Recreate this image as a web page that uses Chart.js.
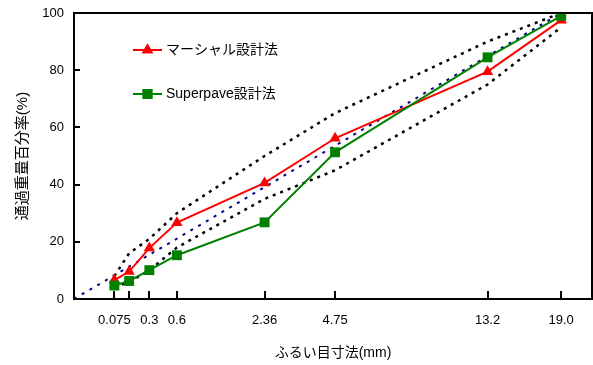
<!DOCTYPE html>
<html>
<head>
<meta charset="utf-8">
<script src="https://cdn.jsdelivr.net/npm/chart.js@4.4.1/dist/chart.umd.min.js"></script>
<style>
html,body{margin:0;padding:0;background:#fff;}
#wrap{width:593px;height:365px;position:relative;}
</style>
</head>
<body>
<div id="wrap"><canvas id="c" width="593" height="365"></canvas></div>
<script>
// sieve sizes (mm)
const sieves = [0.075, 0.15, 0.3, 0.6, 2.36, 4.75, 13.2, 19.0];
const tickLabels = ['0.075', '', '0.3', '0.6', '2.36', '4.75', '13.2', '19.0'];
// passing percentages
const marshall = [6.6, 9.6, 17.8, 26.7, 40.6, 56.2, 79.5, 97.5];
const superpave = [4.7, 6.3, 10.1, 15.3, 26.8, 51.3, 84.5, 99.0];
const upperLimit = [8, 16, 21, 30, 50, 65, 90, 100];
const lowerLimit = [4, 6, 10, 18, 35, 45, 75, 95];
const maxDensitySieves = [0, 19.0];
const maxDensity = [0, 100];
const seriesNames = ['マーシャル設計法', 'Superpave設計法'];
const yTicks = [0, 20, 40, 60, 80, 100];

const P = 0.45;
const px = s => Math.pow(s, P);
const pts = (xs, ys) => xs.map((s, i) => ({x: px(s), y: ys[i]}));

const LATIN = "'Liberation Sans', Arial, sans-serif";
const CJK = "'Liberation Sans', 'Noto Sans CJK JP', sans-serif";

const framePlugin = {
  id: 'frame',
  afterDatasetsDraw(chart) {
    const {ctx, chartArea: a, scales} = chart;
    ctx.save();
    ctx.strokeStyle = '#000';
    ctx.lineWidth = 2;
    ctx.beginPath();
    ctx.moveTo(a.left, a.top); ctx.lineTo(a.right, a.top); ctx.lineTo(a.right, a.bottom);
    // x ticks (inward)
    sieves.forEach(s => {
      const x = Math.round(scales.x.getPixelForValue(px(s)));
      ctx.moveTo(x, a.bottom); ctx.lineTo(x, a.bottom - 8);
    });
    yTicks.forEach(v => {
      const y = Math.round(scales.y.getPixelForValue(v));
      ctx.moveTo(a.left, y); ctx.lineTo(a.left + 6, y);
    });
    ctx.stroke();
    // legend
    const items = [
      {name: seriesNames[0], color: '#ff0000', style: 'triangle', y: 50},
      {name: seriesNames[1], color: '#008000', style: 'rect', y: 94}
    ];
    items.forEach(it => {
      ctx.strokeStyle = it.color; ctx.lineWidth = 2;
      ctx.beginPath(); ctx.moveTo(133, it.y); ctx.lineTo(162, it.y); ctx.stroke();
      ctx.fillStyle = it.color;
      Chart.helpers.drawPoint(ctx, {pointStyle: it.style, radius: it.style === 'rect' ? 7 : 6.5, borderWidth: 0}, 147.5, it.y);
      ctx.fill();
      ctx.fillStyle = '#000';
      ctx.font = "14px " + CJK;
      ctx.textBaseline = 'middle';
      ctx.textAlign = 'left';
      ctx.fillText(it.name, 166, it.y);
    });
    ctx.restore();
  }
};

new Chart(document.getElementById('c'), {
  type: 'line',
  data: {
    datasets: [
      {label: seriesNames[1], data: pts(sieves, superpave), borderColor: '#008000', backgroundColor: '#008000',
       borderWidth: 2, pointStyle: 'rect', pointRadius: 7, pointBorderWidth: 0, order: 1},
      {label: seriesNames[0], data: pts(sieves, marshall), borderColor: '#ff0000', backgroundColor: '#ff0000',
       borderWidth: 2, pointStyle: 'triangle', pointRadius: 6.5, pointBorderWidth: 0, order: 2},
      {label: 'upper', data: pts(sieves, upperLimit), borderColor: '#000', borderWidth: 2.5, borderDash: [3, 5],
       pointRadius: 0, order: 3},
      {label: 'lower', data: pts(sieves, lowerLimit), borderColor: '#000', borderWidth: 2.5, borderDash: [3, 5],
       pointRadius: 0, order: 4},
      {label: 'max density', data: pts(maxDensitySieves, maxDensity), borderColor: '#000080', borderWidth: 2, borderDash: [3, 6],
       pointRadius: 0, order: 5, clip: false}
    ]
  },
  options: {
    responsive: false,
    animation: false,
    layout: {autoPadding: false, padding: {top: 13, right: 1, left: 0, bottom: 0}},
    plugins: {legend: {display: false}, tooltip: {enabled: false}},
    elements: {line: {tension: 0, fill: false}},
    scales: {
      x: {
        type: 'linear', min: 0, max: 4.0,
        afterBuildTicks: s => { s.ticks = sieves.map(v => ({value: px(v)})); },
        afterFit: s => { s.height = 66; s.paddingLeft = 0; s.paddingRight = 0; },
        ticks: {autoSkip: false, maxRotation: 0, padding: 14, color: '#000',
          font: {family: LATIN, size: 13},
          callback: (v, i) => tickLabels[i]},
        grid: {display: false, drawTicks: false},
        border: {display: true, color: '#000', width: 2},
        title: {display: true, text: 'ふるい目寸法(mm)', color: '#000', font: {family: CJK, size: 14},
          padding: {top: 0, bottom: 3}}
      },
      y: {
        min: 0, max: 100,
        afterBuildTicks: s => { s.ticks = yTicks.map(v => ({value: v})); },
        afterFit: s => { s.width = 74; s.paddingTop = 0; s.paddingBottom = 0; },
        ticks: {padding: 10, color: '#000', font: {family: LATIN, size: 13}},
        grid: {display: false, drawTicks: false},
        border: {display: true, color: '#000', width: 2},
        title: {display: true, text: '通過重量百分率(%)', color: '#000', font: {family: CJK, size: 15},
          padding: {top: 14, bottom: 0}}
      }
    }
  },
  plugins: [framePlugin]
});
</script>
</body>
</html>
